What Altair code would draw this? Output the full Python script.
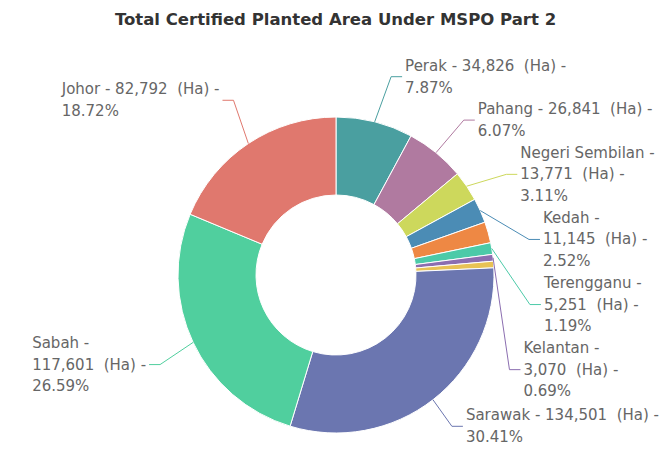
import math
import altair as alt
import pandas as pd

# ---------------- data ----------------
title_text = "Total Certified Planted Area Under MSPO Part 2"
states = ["Perak", "Pahang", "Negeri Sembilan", "Kedah", "Selangor", "Terengganu",
          "Kelantan", "Melaka", "Sarawak", "Sabah", "Johor"]
areas = [34826, 26841, 13771, 11145, 9500, 5251, 3070, 2980, 134501, 117601, 82792]
percents = [7.87, 6.07, 3.11, 2.52, 2.15, 1.19, 0.69, 0.67, 30.41, 26.59, 18.72]
labelled = [True, True, True, True, False, True, True, False, True, True, True]
colors = ["#4a9fa0", "#b07aa0", "#cdd85c", "#4b8cb5", "#ee8844", "#4ccaa8",
          "#8b6eb0", "#e8c255", "#6b76b0", "#50cf9e", "#e0786e"]

# ---------------- layout settings ----------------
W, H = 652, 444            # drawing area (page minus 8px margins)
CX, CY = 336, 275          # donut centre, page coordinates
R_IN, R_OUT = 80, 158
R_LABEL = 210              # natural radius for label placement
R_X = 210                  # radius used to place label x
FONT = "DejaVu Sans"
FS = 15
LH = 21.7
PAD = 0
TOP, BOTTOM = 55, 448
RIGHT_LIMIT, LEFT_LIMIT = 659, 9   # text must stay inside these page x values
MAX_W = 200
MAX_SHIFT = 25
NBSP = "\u00a0"

CW = {" ": .318, NBSP: .318, "-": .361, ",": .318, ".": .318, "%": .951, "(": .39,
      ")": .39, "H": .752, "a": .613, "P": .603, "e": .615, "r": .411, "k": .579,
      "h": .634, "n": .634, "g": .635, "N": .748, "i": .278, "S": .635, "m": .974,
      "b": .635, "l": .278, "K": .656, "d": .635, "T": .611, "u": .634, "J": .295,
      "o": .612, "s": .521, "w": .818, "t": .392}


def text_w(s):
    return sum(CW.get(ch, .636 if ch.isdigit() else .62) for ch in s) * FS


total = sum(areas)
cum = 0.0
mids = []
for a in areas:
    mids.append((cum + a / 2) / total * 2 * math.pi)
    cum += a

items = []
for i, name in enumerate(states):
    if not labelled[i]:
        continue
    ang = mids[i]
    items.append(dict(
        i=i, ang=ang,
        side="right" if math.sin(ang) >= 0 else "left",
        natural=CY - R_LABEL * math.cos(ang),
        parts=(f"{name} -", f"{areas[i]:,}{NBSP} (Ha) -", f"{percents[i]:.2f}%"),
    ))


def circle_x(it, y):
    dy = y - CY
    off = math.sqrt(max(R_X ** 2 - dy ** 2, 0))
    return CX + off if it["side"] == "right" else CX - off


def layout_label(it, y):
    """Return (anchor x, lines) for a label whose block is centred at y."""
    x = circle_x(it, y)
    a, b, c = it["parts"]
    first = a + " " + b
    w = text_w(first)
    if w <= MAX_W:
        if it["side"] == "right":
            need = max(0.0, x + w - RIGHT_LIMIT)
            if need <= MAX_SHIFT:
                return x - need, [first, c]
        else:
            need = max(0.0, LEFT_LIMIT - (x - w))
            if need <= MAX_SHIFT:
                return x + need, [first, c]
    return x, [a, b, c]


def place(c):
    off = 0
    tops = []
    for it, h in zip(c["items"], c["hs"]):
        tops.append(it["natural"] - off - h / 2)
        off += h
    top = sum(tops) / len(tops)
    c["top"] = max(TOP, min(top, BOTTOM - off))


def distribute(group):
    group.sort(key=lambda d: d["natural"])
    clusters = []
    for it in group:
        c = {"items": [it], "hs": [len(it["lines"]) * LH + PAD]}
        place(c)
        clusters.append(c)
        while len(clusters) > 1 and clusters[-2]["top"] + sum(clusters[-2]["hs"]) > clusters[-1]["top"]:
            last = clusters.pop()
            clusters[-1]["items"] += last["items"]
            clusters[-1]["hs"] += last["hs"]
            place(clusters[-1])
    for c in clusters:
        y = c["top"]
        for it, h in zip(c["items"], c["hs"]):
            it["y"] = y + h / 2
            y += h


for it in items:
    it["y"] = it["natural"]
for _ in range(4):
    for it in items:
        it["x"], it["lines"] = layout_label(it, it["y"])
    for side in ("right", "left"):
        distribute([it for it in items if it["side"] == side])
for it in items:
    it["x"], it["lines"] = layout_label(it, it["y"])

label_rows, line_rows = [], []
for it in items:
    x = it["x"]
    s = 1 if it["side"] == "right" else -1
    i = it["i"]
    n = len(it["lines"])
    block_w = max(text_w(ln) for ln in it["lines"])
    tx = x if s == 1 else x - block_w
    label_rows.append(dict(name=states[i], tx=tx, ty=it["y"] - (n - 1) / 2 * LH,
                           label="\n".join(it["lines"])))
    ex = CX + R_OUT * math.sin(it["ang"])
    ey = CY - R_OUT * math.cos(it["ang"])
    pts = [(ex, ey), (x - s * 14, it["y"]), (x - s * 3, it["y"])]
    for k, (px, py) in enumerate(pts):
        line_rows.append(dict(name=states[i], seq=k, px=px, py=py, color=colors[i]))

slices = pd.DataFrame(dict(idx=list(range(len(states))), state=states, area=areas, color=colors))
labels_df = pd.DataFrame(label_rows)
lines_df = pd.DataFrame(line_rows)

xs = alt.Scale(domain=[8, 8 + W], nice=False, zero=False)
ys = alt.Scale(domain=[8, 8 + H], nice=False, zero=False, reverse=True)

donut = alt.Chart(slices).mark_arc(innerRadius=R_IN, outerRadius=R_OUT, stroke="white",
                                   strokeWidth=1).encode(
    theta=alt.Theta("area:Q", stack=True),
    order=alt.Order("idx:Q"),
    color=alt.Color("color:N", scale=None),
    x=alt.value(CX - 8),
    y=alt.value(CY - 8),
)

leaders = alt.Chart(lines_df).mark_line(strokeWidth=1).encode(
    x=alt.X("px:Q", scale=xs, axis=None),
    y=alt.Y("py:Q", scale=ys, axis=None),
    detail="name:N",
    order=alt.Order("seq:Q"),
    color=alt.Color("color:N", scale=None),
)

labels = alt.Chart(labels_df).mark_text(
    align="left", baseline="middle", lineBreak="\n", lineHeight=LH, font=FONT,
    fontSize=FS, color="#666666").encode(
    x=alt.X("tx:Q", scale=xs, axis=None),
    y=alt.Y("ty:Q", scale=ys, axis=None),
    text="label:N",
)

title = alt.Chart(pd.DataFrame({"t": [title_text]})).mark_text(
    align="center", baseline="middle", font=FONT, fontSize=16.5, fontWeight="bold",
    color="#333333").encode(
    x=alt.value(335.5 - 8), y=alt.value(20 - 8), text="t:N")

chart = alt.layer(donut, leaders, labels, title).properties(
    width=W, height=H, padding=0, autosize="none"
).configure_view(stroke=None)

chart.save("out.html", embed_options={"renderer": "svg", "actions": False})
